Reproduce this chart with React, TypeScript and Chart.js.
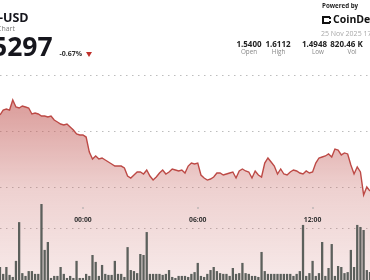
import React, { useEffect, useRef } from "react";
import { Chart, registerables } from "chart.js";

Chart.register(...registerables);

// ---- data ----
const startTime = "19:40";
const intervalMinutes = 10;

const prices = [
  1.5652, 1.5696, 1.5705, 1.5696, 1.5786, 1.5723, 1.5714, 1.5732, 1.5723, 1.5714,
  1.5661, 1.567, 1.5661, 1.5643, 1.5643, 1.5634, 1.5643, 1.5607, 1.5589, 1.5571,
  1.5563, 1.5571, 1.5545, 1.5518, 1.5482, 1.5473, 1.5473, 1.5455, 1.5321, 1.5259,
  1.5286, 1.5259, 1.5268, 1.525, 1.5232, 1.5214, 1.5196, 1.5196, 1.5196, 1.5179,
  1.5107, 1.5089, 1.5116, 1.5143, 1.5143, 1.5125, 1.5161, 1.5107, 1.5071, 1.5098,
  1.5134, 1.5161, 1.5125, 1.5143, 1.517, 1.5161, 1.5152, 1.5161, 1.5134, 1.5196,
  1.5223, 1.5214, 1.5223, 1.5116, 1.5089, 1.5071, 1.508, 1.5098, 1.5134, 1.5134,
  1.5116, 1.5125, 1.5134, 1.5143, 1.5089, 1.5152, 1.517, 1.5152, 1.5143, 1.5089,
  1.5152, 1.5116, 1.5098, 1.5223, 1.5268, 1.5232, 1.5196, 1.5125, 1.517, 1.5125,
  1.5116, 1.5143, 1.5161, 1.5152, 1.5134, 1.5125, 1.5152, 1.5134, 1.5143, 1.5223,
  1.5268, 1.5277, 1.5286, 1.5304, 1.5277, 1.5348, 1.5339, 1.5295, 1.5313, 1.5304,
  1.5205, 1.5125, 1.5188, 1.5143, 1.4938, 1.5009, 1.4973,
];

// volume per 10-minute bar, in thousands
const volumes = [
  5.1, 2.4, 5.1, 2.0, 1.2, 7.5, 22.7, 2.7, 1.6, 3.5,
  3.5, 2.4, 2.4, 29.8, 11.8, 14.9, 0.8, 1.6, 1.6, 5.1,
  2.4, 0.8, 1.6, 0.8, 7.5, 0.8, 0.8, 2.4, 1.6, 9.8,
  7.1, 1.6, 5.9, 2.4, 2.0, 2.0, 7.5, 2.4, 2.4, 1.2,
  12.9, 3.9, 3.5, 2.7, 10.2, 9.8, 18.8, 2.4, 2.4, 2.4,
  2.4, 2.0, 2.4, 3.9, 1.2, 0.8, 1.6, 1.6, 1.6, 1.2,
  2.4, 3.1, 6.7, 1.6, 1.2, 2.4, 3.9, 5.1, 3.5, 2.7,
  2.4, 2.4, 1.6, 4.7, 2.4, 2.7, 6.7, 2.7, 2.4, 1.6,
  1.6, 1.2, 11.0, 3.5, 2.4, 2.4, 2.4, 2.4, 2.4, 2.4,
  2.4, 2.4, 1.6, 2.4, 3.5, 21.6, 1.6, 2.7, 7.5, 1.6,
  2.7, 14.9, 1.6, 4.7, 14.1, 1.6, 5.5, 5.1, 2.7, 3.1,
  11.8, 5.1, 21.6, 20.8, 19.6, 3.9, 3.1,
];

const timeTickLabels = ["00:00", "06:00", "12:00"];
const priceGridTicks = [1.5, 1.55, 1.6];
const volumeGridTicks = [20];
const priceAxisMin = 1.417857;
const priceAxisMax = 1.667857;
const volumeAxisMax = 109.8;

const statValues = ["1.5400", "1.6112", "1.4948", "820.46 K"];
const statNames = ["Open", "High", "Low", "Vol"];

const pad2 = (n: number) => String(n).padStart(2, "0");
const [startH, startM] = startTime.split(":").map(Number);
const timeLabels = prices.map((_, i) => {
  const t = (startH * 60 + startM + i * intervalMinutes) % 1440;
  return `${pad2(Math.floor(t / 60))}:${pad2(t % 60)}`;
});

const FONT = '"Open Sans", "Noto Sans", sans-serif';

const timeAxisPlugin = {
  id: "timeAxis",
  afterDatasetsDraw(chart: any) {
    const { ctx } = chart;
    const xs = chart.scales.x;
    ctx.save();
    ctx.font = `700 6.8px ${FONT}`;
    ctx.textAlign = "center";
    ctx.textBaseline = "alphabetic";
    timeTickLabels.forEach((lbl) => {
      const idx = timeLabels.indexOf(lbl);
      if (idx < 0) return;
      const px = xs.getPixelForValue(idx);
      ctx.fillStyle = "#a5a5a5";
      ctx.fillRect(Math.round(px) - 0.5, 207, 1, 2);
      ctx.fillStyle = "#333333";
      ctx.fillText(lbl, px, 221.5);
    });
    ctx.restore();
  },
};

function Txt(props: {
  x: number;
  baseline: number;
  size: number;
  weight?: number;
  color: string;
  center?: boolean;
  spacing?: number;
  children: React.ReactNode;
}) {
  const { x, baseline, size, weight = 400, color, center, spacing = 0, children } = props;
  return (
    <div
      style={{
        position: "absolute",
        left: x,
        top: baseline - 0.888 * size,
        fontSize: size,
        fontWeight: weight,
        color,
        lineHeight: 1,
        whiteSpace: "nowrap",
        letterSpacing: spacing,
        transform: center ? "translateX(-50%)" : undefined,
        fontFamily: FONT,
      }}
    >
      {children}
    </div>
  );
}

export default function App() {
  const canvasRef = useRef<HTMLCanvasElement | null>(null);

  useEffect(() => {
    const canvas = canvasRef.current;
    if (!canvas) return;
    const gridCommon = {
      color: "#bdbdbd",
      lineWidth: 1,
      drawTicks: false,
    };
    const chart = new Chart(canvas, {
      type: "bar",
      data: {
        labels: timeLabels,
        datasets: [
          {
            type: "bar",
            data: volumes,
            yAxisID: "yVol",
            backgroundColor: "#5c605c",
            borderWidth: 0,
            barPercentage: 0.72,
            categoryPercentage: 1,
            order: 1,
          } as any,
          {
            type: "line",
            data: prices,
            yAxisID: "y",
            borderColor: "#bd4a46",
            borderWidth: 1.4,
            pointRadius: 0,
            tension: 0,
            fill: "start",
            order: 2,
            backgroundColor: (c: any) => {
              const ch = c.chart;
              const area = ch.chartArea;
              if (!area) return "rgba(194,90,86,0.3)";
              const top = ch.scales.y.getPixelForValue(Math.max(...prices));
              const g = ch.ctx.createLinearGradient(0, top, 0, area.bottom);
              g.addColorStop(0, "rgba(194,90,86,0.6)");
              g.addColorStop(0.5, "rgba(194,90,86,0.28)");
              g.addColorStop(1, "rgba(194,90,86,0.13)");
              return g;
            },
          } as any,
        ],
      },
      options: {
        animation: false,
        responsive: false,
        maintainAspectRatio: false,
        events: [],
        layout: { padding: 0 },
        plugins: { legend: { display: false }, tooltip: { enabled: false } },
        scales: {
          x: { display: false, offset: false, grid: { display: false } },
          y: {
            position: "right",
            min: priceAxisMin,
            max: priceAxisMax,
            ticks: { display: false },
            grid: gridCommon,
            border: { display: false, dash: [1.5, 4.5] },
            afterBuildTicks: (s: any) => {
              s.ticks = priceGridTicks.map((v) => ({ value: v }));
            },
            afterFit: (s: any) => {
              s.width = 0;
            },
          },
          yVol: {
            position: "left",
            min: 0,
            max: volumeAxisMax,
            ticks: { display: false },
            grid: gridCommon,
            border: { display: false, dash: [1.5, 4.5] },
            afterBuildTicks: (s: any) => {
              s.ticks = volumeGridTicks.map((v) => ({ value: v }));
            },
            afterFit: (s: any) => {
              s.width = 0;
            },
          },
        } as any,
      },
      plugins: [timeAxisPlugin],
    });
    return () => chart.destroy();
  }, []);

  const valueCenters = [249, 278, 314.5, 346.5];
  const nameCenters = [249, 278.5, 318, 352];

  return (
    <div
      style={{
        position: "fixed",
        left: 0,
        top: 0,
        width: 370,
        height: 280,
        overflow: "hidden",
        background: "#ffffff",
        fontFamily: FONT,
      }}
    >
      <canvas
        ref={canvasRef}
        width={370}
        height={280}
        style={{ position: "absolute", left: 0, top: 0, width: 370, height: 280 }}
      />
      {/* left header */}
      <Txt x={-1} baseline={23} size={12.5} weight={700} color="#16161d">-USD</Txt>
      <Txt x={-3} baseline={31} size={7} color="#7a7a7a">Chart</Txt>
      <Txt x={-8} baseline={57} size={26.5} weight={700} color="#16161d">5297</Txt>
      <Txt x={59.5} baseline={56.7} size={7} weight={700} color="#333333">-0.67%</Txt>
      <div
        style={{
          position: "absolute",
          left: 85.5,
          top: 52,
          width: 0,
          height: 0,
          borderLeft: "3px solid transparent",
          borderRight: "3px solid transparent",
          borderTop: "5px solid #c0302b",
        }}
      />
      {/* right header */}
      <Txt x={322} baseline={8.6} size={6.2} weight={700} color="#222222">Powered by</Txt>
      <div
        style={{
          position: "absolute",
          left: 322,
          top: 15.5,
          width: 6,
          height: 4,
          borderLeft: "2px solid #111",
          borderTop: "2px solid #111",
          borderBottom: "2px solid #111",
        }}
      />
      <div style={{ position: "absolute", left: 329, top: 17, width: 2, height: 2, background: "#111" }} />
      <div style={{ position: "absolute", left: 329, top: 20.5, width: 2, height: 2, background: "#111" }} />
      <Txt x={333} baseline={23.3} size={10.5} weight={700} color="#111111">CoinDes</Txt>
      <Txt x={321} baseline={36} size={7} color="#a8a8a8">25 Nov 2025 17</Txt>
      {statValues.map((v, i) => (
        <Txt key={v} x={valueCenters[i]} baseline={46.7} size={8} weight={700} color="#222222" center>
          {v}
        </Txt>
      ))}
      {statNames.map((n, i) => (
        <Txt key={n} x={nameCenters[i]} baseline={55} size={6.3} color="#888888" center>
          {n}
        </Txt>
      ))}
    </div>
  );
}
